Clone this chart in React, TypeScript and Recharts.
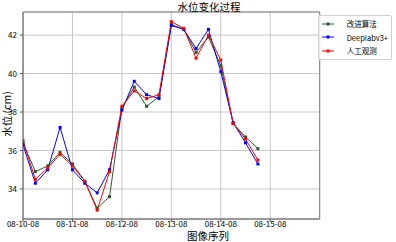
import React from 'react';
import { LineChart, Line, XAxis, YAxis, CartesianGrid, Legend, ReferenceArea } from 'recharts';

const steps = [0, 1, 2, 3, 4, 5, 6, 7, 8, 9, 10, 11, 12, 13, 14, 15, 16, 17, 18, 19];
const improved = [36.4, 34.9, 35.2, 35.9, 35.3, 34.4, 33.0, 33.6, 38.2, 39.3, 38.3, 38.8, 42.55, 42.3, 41.1, 41.9, 40.4, 37.4, 36.7, 36.1];
const deeplab = [36.3, 34.3, 35.0, 37.2, 35.0, 34.3, 33.8, 35.0, 38.1, 39.6, 38.9, 38.7, 42.5, 42.3, 41.3, 42.3, 40.1, 37.45, 36.4, 35.3];
const manual = [36.5, 34.5, 35.1, 35.8, 35.2, 34.4, 32.9, 34.9, 38.3, 39.1, 38.7, 38.9, 42.7, 42.35, 40.8, 42.0, 40.7, 37.4, 36.6, 35.5];
const xTicks = [0, 4, 8, 12, 16, 20];
const xTickLabels = ['08-10-08', '08-11-08', '08-12-08', '08-13-08', '08-14-08', '08-15-08'];
const yTicks = [34, 36, 38, 40, 42];
const seriesNames = ['改进算法', 'Deeplabv3+', '人工观测'];
const seriesColors = ['#2b5a2b', '#0000ff', '#ff0000'];

const data = steps.map((s, i) => ({ step: s, improved: improved[i], deeplab: deeplab[i], manual: manual[i] }));

const FONT = '"Noto Sans CJK SC", sans-serif';
const Y_MIN = 32.44;
const Y_MAX = 43.2;

const makeDot = (color: string) => (props: any) => {
  const { cx, cy, index } = props;
  if (cx == null || cy == null) return <g key={index} />;
  return <rect key={index} x={cx - 1.5} y={cy - 1.5} width={3} height={3} fill={color} stroke="none" />;
};

const XTick = (props: any) => {
  const { x, y, payload } = props;
  const label = xTickLabels[xTicks.indexOf(payload.value)] ?? '';
  return (
    <text x={x} y={y + 3} textAnchor="middle" style={{ fontFamily: FONT, fontSize: 8, fill: '#000' }}>{label}</text>
  );
};

const YTick = (props: any) => {
  const { x, y, payload } = props;
  return (
    <text x={x - 1} y={y + 3} textAnchor="end" style={{ fontFamily: FONT, fontSize: 8, fill: '#000' }}>{payload.value}</text>
  );
};

const LegendContent = () => (
  <div style={{ border: '1px solid #d0d0d0', background: 'rgba(255,255,255,0.8)', padding: '1px 3px 1px 2px', fontFamily: FONT, fontSize: 7.5, lineHeight: '13.5px', borderRadius: 2 }}>
    {seriesNames.map((n, i) => (
      <div key={n} style={{ display: 'flex', alignItems: 'center' }}>
        <svg width={14} height={8} style={{ marginRight: 12 }}>
          <line x1={1} y1={4} x2={13} y2={4} stroke={seriesColors[i]} strokeWidth={1} />
          <rect x={5.5} y={2.5} width={3} height={3} fill={seriesColors[i]} />
        </svg>
        <span style={{ color: '#000' }}>{n}</span>
      </div>
    ))}
  </div>
);

export default function App() {
  return (
    <div style={{ position: 'absolute', left: 0, top: 0, width: 396, height: 242, background: '#fff', overflow: 'hidden' }}>
      <LineChart width={396} height={242} data={data} margin={{ top: 12, right: 2, bottom: 0, left: 0 }}>
        <CartesianGrid stroke="#c8c8c8" strokeWidth={1} />
        <XAxis
          dataKey="step"
          type="number"
          domain={[0, 24]}
          ticks={xTicks}
          allowDataOverflow
          tick={<XTick />}
          tickSize={3}
          tickLine={{ stroke: '#555' }}
          axisLine={{ stroke: '#808080' }}
          height={23}
          interval={0}
        />
        <YAxis
          type="number"
          domain={[Y_MIN, Y_MAX]}
          ticks={yTicks}
          allowDataOverflow
          tick={<YTick />}
          tickSize={3}
          tickLine={{ stroke: '#555' }}
          axisLine={{ stroke: '#808080' }}
          width={23}
        />
        <ReferenceArea x1={0} x2={24} y1={Y_MIN} y2={Y_MAX} fill="none" stroke="#808080" strokeWidth={1} ifOverflow="visible" />
        <Legend content={<LegendContent />} layout="vertical" verticalAlign="top" align="right" wrapperStyle={{ top: 15, right: 4, left: 'auto', width: 'auto' }} />
        <Line name={seriesNames[0]} dataKey="improved" stroke={seriesColors[0]} strokeWidth={1} dot={makeDot(seriesColors[0])} activeDot={false} isAnimationActive={false} />
        <Line name={seriesNames[1]} dataKey="deeplab" stroke={seriesColors[1]} strokeWidth={1} dot={makeDot(seriesColors[1])} activeDot={false} isAnimationActive={false} />
        <Line name={seriesNames[2]} dataKey="manual" stroke={seriesColors[2]} strokeWidth={1} dot={makeDot(seriesColors[2])} activeDot={false} isAnimationActive={false} />
      </LineChart>
      <div style={{ position: 'absolute', left: 159, width: 100, top: 0, textAlign: 'center', fontFamily: FONT, fontSize: 10.5, lineHeight: '14px', color: '#000' }}>水位变化过程</div>
      <div style={{ position: 'absolute', left: 158, width: 100, top: 230, textAlign: 'center', fontFamily: FONT, fontSize: 10.5, lineHeight: '12px', color: '#000' }}>图像序列</div>
      <svg width={16} height={242} style={{ position: 'absolute', left: 0, top: 0 }}>
        <text x={0} y={0} transform="translate(10.5,114) rotate(-90)" textAnchor="middle" style={{ fontFamily: FONT, fontSize: 10.5, fill: '#000' }}>水位 (cm)</text>
      </svg>
    </div>
  );
}
